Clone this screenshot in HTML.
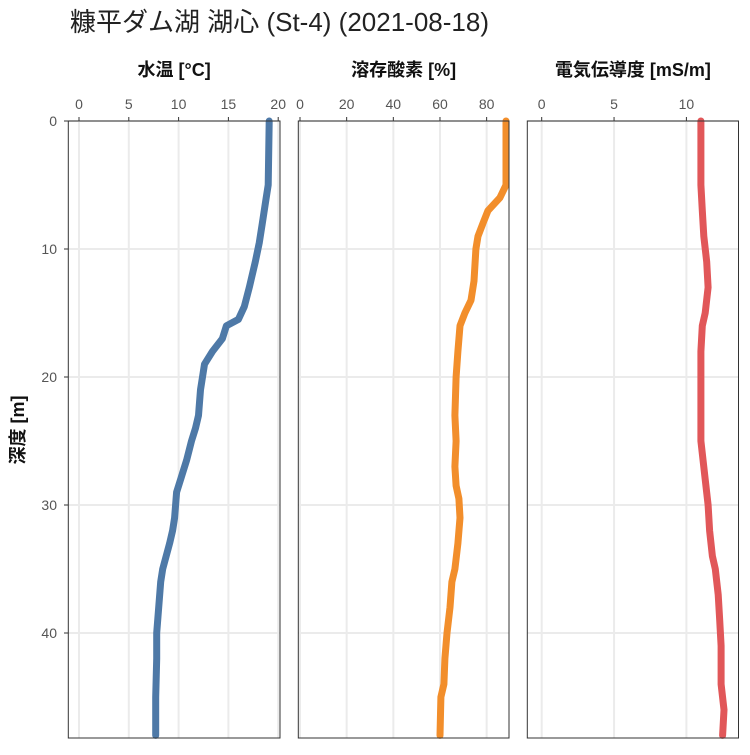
<!DOCTYPE html>
<html><head><meta charset="utf-8">
<style>
body{margin:0;background:#fff;}
svg text{font-family:"Liberation Sans","Noto Sans CJK JP",sans-serif;}
</style></head>
<body>
<svg id="chart" width="750" height="750" xmlns="http://www.w3.org/2000/svg">
<text x="70" y="31" font-size="26" fill="#222">糠平ダム湖 湖心 (St-4) (2021-08-18)</text>
<text transform="translate(24,430) rotate(-90)" text-anchor="middle" font-size="18" font-weight="bold" fill="#111">深度 [m]</text>
<g id="panels"></g>
</svg>
<script>
const depthTicks=[0,10,20,30,40];
const tempDepth=[0,5,6,8,9.5,11,13,14.5,15.5,16,17,18,19,20,21,23,24,25,26.5,28,29,31,32,33,35,36,38,40,42,45,48];
const tempValues=[19.1,19.0,18.8,18.4,18.1,17.7,17.1,16.6,16.0,14.8,14.4,13.4,12.6,12.4,12.2,12.0,11.7,11.3,10.8,10.2,9.8,9.6,9.4,9.1,8.4,8.2,8.0,7.8,7.8,7.7,7.7];
const doDepth=[0,5,6,7,8,9,10,12.5,14,15,16,18,20,23,25,27,28.5,29.5,31,33,35,36,38,40,42,44,45,48];
const doValues=[88.3,88.3,85.7,80.6,78.4,76.3,75.4,74.6,73.3,70.7,68.6,67.7,66.9,66.4,66.9,66.4,66.9,68.1,68.6,67.7,66.4,65.1,64.3,63.0,62.1,61.7,60.4,60.0];
const ecDepth=[0,5,7,9,11,13,15,16,18,20,25,28,30,32,34,35,37,39,41,44,46,48];
const ecValues=[11.0,11.0,11.1,11.2,11.4,11.5,11.3,11.1,11.0,11.0,11.0,11.3,11.5,11.6,11.8,12.0,12.2,12.3,12.4,12.4,12.6,12.5];
const panels=[
 {name:'temperature',label:'水温 [°C]',x0:68.3,x1:280,z:79,zv:0,scale:9.96,ticks:[0,5,10,15,20],d:tempDepth,v:tempValues,color:'#4e79a7'},
 {name:'dissolved-oxygen',label:'溶存酸素 [%]',x0:298.3,x1:509,z:300,zv:0,scale:2.333,ticks:[0,20,40,60,80],d:doDepth,v:doValues,color:'#f28e2b'},
 {name:'conductivity',label:'電気伝導度 [mS/m]',x0:527.3,x1:738.5,z:541.7,zv:0,scale:14.47,ticks:[0,5,10],d:ecDepth,v:ecValues,color:'#e15759'}
];
const topY=121,pxPerM=12.8,bottomY=738;
function yS(d){return topY+d*pxPerM;}
const NS='http://www.w3.org/2000/svg';
const g=document.getElementById('panels');
function mk(tag,attrs,parent){const e=document.createElementNS(NS,tag);for(const k in attrs)e.setAttribute(k,attrs[k]);(parent||g).appendChild(e);return e;}
depthTicks.forEach(t=>{
 const tx=mk('text',{x:57,y:yS(t)+5,'text-anchor':'end','font-size':14,fill:'#555'});
 
 
 tx.textContent=t;
 const tl=mk('line',{x1:64,x2:68,y1:yS(t),y2:yS(t),stroke:'#333','stroke-width':1});
 
 
});
panels.forEach(p=>{
 const xS=v=>p.z+(v-p.zv)*p.scale;
 const pg=mk('g',{});
 
 
 depthTicks.forEach(t=>{
  const l=mk('line',{x1:p.x0,x2:p.x1,y1:yS(t),y2:yS(t),stroke:'#ebebeb','stroke-width':2},pg);
  
  
 });
 p.ticks.forEach(t=>{
  const l=mk('line',{x1:xS(t),x2:xS(t),y1:topY,y2:bottomY,stroke:'#ebebeb','stroke-width':2},pg);
  
  
  const tk=mk('line',{x1:xS(t),x2:xS(t),y1:topY-4,y2:topY,stroke:'#333','stroke-width':1},pg);
  
  
  const tx=mk('text',{x:xS(t),y:topY-12,'text-anchor':'middle','font-size':14,fill:'#555'},pg);
  
  
  tx.textContent=t;
 });
 const pts=p.d.map((d,i)=>xS(p.v[i]).toFixed(1)+','+yS(d).toFixed(1)).join(' ');
 const line=mk('polyline',{points:pts,fill:'none',stroke:p.color,'stroke-width':7,'stroke-linejoin':'round','stroke-linecap':'round'},pg);
 
 
 const r=mk('rect',{x:p.x0,y:topY,width:p.x1-p.x0,height:bottomY-topY,fill:'none',stroke:'#333','stroke-width':1},pg);
 
 
 const lb=mk('text',{x:(p.x0+p.x1)/2,y:76,'text-anchor':'middle','font-size':18,'font-weight':'bold',fill:'#111'},pg);
 
 
 lb.textContent=p.label;
});
</script>
</body></html>
